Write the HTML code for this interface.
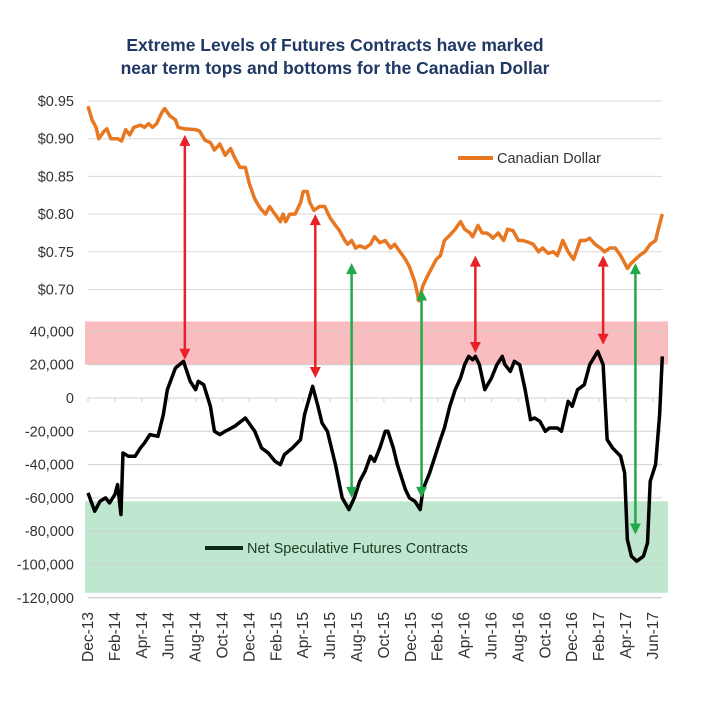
<!DOCTYPE html>
<html><head><meta charset="utf-8"><style>
body{margin:0;background:#fff;}
svg text{font-family:"Liberation Sans",Arial,sans-serif;}
</style></head><body>
<svg id="chart" width="728" height="714" viewBox="0 0 728 714" xmlns="http://www.w3.org/2000/svg">
<text x="335" y="51" text-anchor="middle" font-size="17.5" font-weight="bold" fill="#1f3864">Extreme Levels of Futures Contracts have marked</text>
<text x="335" y="74" text-anchor="middle" font-size="17.5" font-weight="bold" fill="#1f3864">near term tops and bottoms for the Canadian Dollar</text>
<g id="bands"></g><g id="grid"></g><g id="series"></g><g id="arrows"></g><g id="axes"></g>
<g>
<line x1="458" y1="158" x2="493" y2="158" stroke="#e87722" stroke-width="4"/>
<text x="497" y="163" font-size="14.5" fill="#333">Canadian Dollar</text></g>
<g>
<line x1="205" y1="548" x2="243" y2="548" stroke="#0b2b15" stroke-width="4"/>
<text x="247" y="553" font-size="14.5" fill="#1b3a22">Net Speculative Futures Contracts</text></g>
</svg>
<script>
const xLabels=["Dec-13","Feb-14","Apr-14","Jun-14","Aug-14","Oct-14","Dec-14","Feb-15","Apr-15","Jun-15","Aug-15","Oct-15","Dec-15","Feb-16","Apr-16","Jun-16","Aug-16","Oct-16","Dec-16","Feb-17","Apr-17","Jun-17"];
const cadTicks=[0.95,0.90,0.85,0.80,0.75,0.70];
const netTicks=[40000,20000,0,-20000,-40000,-60000,-80000,-100000,-120000];
const cadMonths=[0,.3,.6,.8,1.2,1.4,1.7,2.2,2.5,2.8,3.1,3.4,3.9,4.2,4.5,4.8,5.1,5.5,5.7,6.1,6.5,6.7,7.2,8.0,8.3,8.7,9.1,9.4,9.8,10.2,10.6,10.9,11.3,11.7,12.0,12.4,12.8,13.2,13.5,13.9,14.3,14.5,14.7,15.0,15.4,15.8,16.0,16.3,16.5,16.8,17.2,17.6,18.0,18.4,18.7,19.1,19.3,19.6,19.9,20.2,20.6,21.0,21.3,21.7,22.1,22.5,22.8,23.2,23.6,23.9,24.3,24.6,24.9,25.3,25.6,25.9,26.2,26.5,26.9,27.3,27.7,28.0,28.4,28.6,29.0,29.3,29.6,29.9,30.1,30.5,30.9,31.2,31.6,32.0,32.3,32.7,33.1,33.5,33.8,34.2,34.6,34.9,35.3,35.7,36.1,36.6,37.0,37.3,37.7,38.1,38.4,38.8,39.2,39.6,39.9,40.1,40.4,40.7,41.0,41.4,41.8,42.2,42.4,42.7];
const cadValues=[.943,.925,.915,.90,.91,.913,.90,.90,.897,.912,.905,.915,.918,.915,.92,.915,.92,.935,.94,.93,.925,.915,.913,.912,.91,.898,.895,.885,.893,.878,.887,.875,.862,.862,.84,.82,.808,.80,.81,.80,.79,.80,.79,.80,.80,.815,.83,.83,.815,.805,.81,.81,.795,.785,.778,.765,.76,.765,.755,.758,.755,.76,.77,.762,.765,.755,.76,.75,.74,.73,.71,.685,.705,.72,.73,.74,.745,.765,.772,.78,.79,.78,.775,.77,.785,.775,.775,.772,.768,.775,.765,.78,.778,.765,.765,.763,.76,.75,.755,.748,.75,.745,.765,.75,.74,.765,.765,.768,.76,.755,.75,.755,.755,.745,.735,.728,.735,.74,.745,.75,.76,.765,.78,.80];
const netMonths=[0,.5,.9,1.3,1.6,2.0,2.2,2.45,2.6,3.0,3.5,3.9,4.2,4.6,5.2,5.6,5.9,6.5,7.1,7.6,8.0,8.2,8.6,9.1,9.4,9.8,10.2,10.9,11.7,12.4,12.9,13.4,13.9,14.3,14.6,15.2,15.8,16.1,16.7,17.1,17.4,17.8,18.4,18.9,19.4,19.8,20.2,20.6,21.0,21.3,21.7,22.1,22.3,22.7,23.0,23.6,23.9,24.3,24.7,24.9,25.4,25.8,26.2,26.5,26.9,27.3,27.7,28.0,28.3,28.6,28.8,29.1,29.5,30.0,30.4,30.8,31.0,31.4,31.7,32.1,32.5,32.9,33.2,33.6,34.0,34.3,34.9,35.2,35.7,36.0,36.4,36.9,37.3,37.9,38.3,38.6,39.0,39.6,39.9,40.1,40.4,40.8,41.3,41.6,41.8,42.2,42.5,42.7];
const netValues=[-57,-68,-62,-60,-63,-58,-52,-70,-33,-35,-35,-30,-27,-22,-23,-10,5,18,22,10,5,10,8,-5,-20,-22,-20,-17,-12,-20,-30,-33,-38,-40,-34,-30,-25,-10,7,-5,-15,-20,-40,-60,-67,-60,-50,-44,-35,-38,-30,-20,-20,-30,-40,-55,-60,-62,-67,-55,-45,-35,-25,-18,-5,5,12,20,25,23,25,20,5,12,20,25,20,16,22,20,5,-13,-12,-14,-20,-18,-18,-20,-2,-5,5,8,20,28,20,-25,-30,-35,-45,-85,-95,-98,-95,-87,-50,-40,-10,25].map(v=>v*1000);
const arrowMonths=[7.2,16.9,19.6,24.8,28.8,38.3,40.7];
const arrowCad=[0.905,0.80,0.735,0.70,0.745,0.745,0.735];
const arrowNet=[23000,12000,-60000,-60000,27000,32000,-82000];
const arrowColors=["red","red","green","green","red","red","green"];

const NS="http://www.w3.org/2000/svg";
const X0=88,X1=662;
const xS=m=>X0+m*13.45;
const yC=v=>101+(0.95-v)/0.05*37.7;
const yN=v=>398-v/20000*33.3;
function mk(tag,attrs,parent){const e=document.createElementNS(NS,tag);for(const k in attrs)e.setAttribute(k,attrs[k]);document.getElementById(parent).appendChild(e);return e;}
let b=mk('rect',{x:85,y:yN(46000),width:583,height:yN(20000)-yN(46000),fill:'#f9bcbf'},'bands');


b=mk('rect',{x:85,y:yN(-62000),width:583,height:yN(-117000)-yN(-62000),fill:'#bfe6cf'},'bands');


cadTicks.forEach(t=>{
 let l=mk('line',{x1:X0,x2:X1,y1:yC(t),y2:yC(t),stroke:'#d9d9d9','stroke-width':1},'grid');
 
 
 let tx=mk('text',{x:74,y:yC(t)+5,'text-anchor':'end','font-size':14.5,fill:'#333'},'axes');
 
 
 tx.textContent='$'+t.toFixed(2);
});
netTicks.forEach(t=>{
 let l=mk('line',{x1:X0,x2:X1,y1:yN(t),y2:yN(t),stroke:t==-120000?'#bfbfbf':'#d0d0d0','stroke-width':1},'grid');
 
 
 let tx=mk('text',{x:74,y:yN(t)+5,'text-anchor':'end','font-size':14.5,fill:'#333'},'axes');
 
 
 tx.textContent=t.toLocaleString('en-US');
});
xLabels.forEach((lab,i)=>{
 const x=xS(i*2);
 let tk=mk('line',{x1:x,x2:x,y1:yN(0),y2:yN(0)+4,stroke:'#d0d0d0'},'grid');
 
 
 let tx=mk('text',{x:0,y:0,transform:`translate(${x+5},612) rotate(-90)`,'text-anchor':'end','font-size':15.5,fill:'#333'},'axes');
 
 
 tx.textContent=lab;
});
let p=mk('polyline',{points:cadMonths.map((m,i)=>xS(m)+','+yC(cadValues[i])).join(' '),fill:'none',stroke:'#e87722','stroke-width':3.5,'stroke-linejoin':'round'},'series');


p=mk('polyline',{points:netMonths.map((m,i)=>xS(m)+','+yN(netValues[i])).join(' '),fill:'none',stroke:'#000','stroke-width':3.5,'stroke-linejoin':'round'},'series');


arrowMonths.forEach((m,i)=>{
 const c=arrowColors[i]=='red'?'#e8202a':'#22a84a';
 const x=xS(m),y1=yC(arrowCad[i]),y2=yN(arrowNet[i]);
 let l=mk('line',{x1:x,x2:x,y1:y1+8,y2:y2-8,stroke:c,'stroke-width':2.5},'arrows');
 
 
 let h=mk('polygon',{points:`${x},${y1} ${x-5.5},${y1+11} ${x+5.5},${y1+11}`,fill:c},'arrows');
 
 
 h=mk('polygon',{points:`${x},${y2} ${x-5.5},${y2-11} ${x+5.5},${y2-11}`,fill:c},'arrows');
 
 
});
</script>
</body></html>
